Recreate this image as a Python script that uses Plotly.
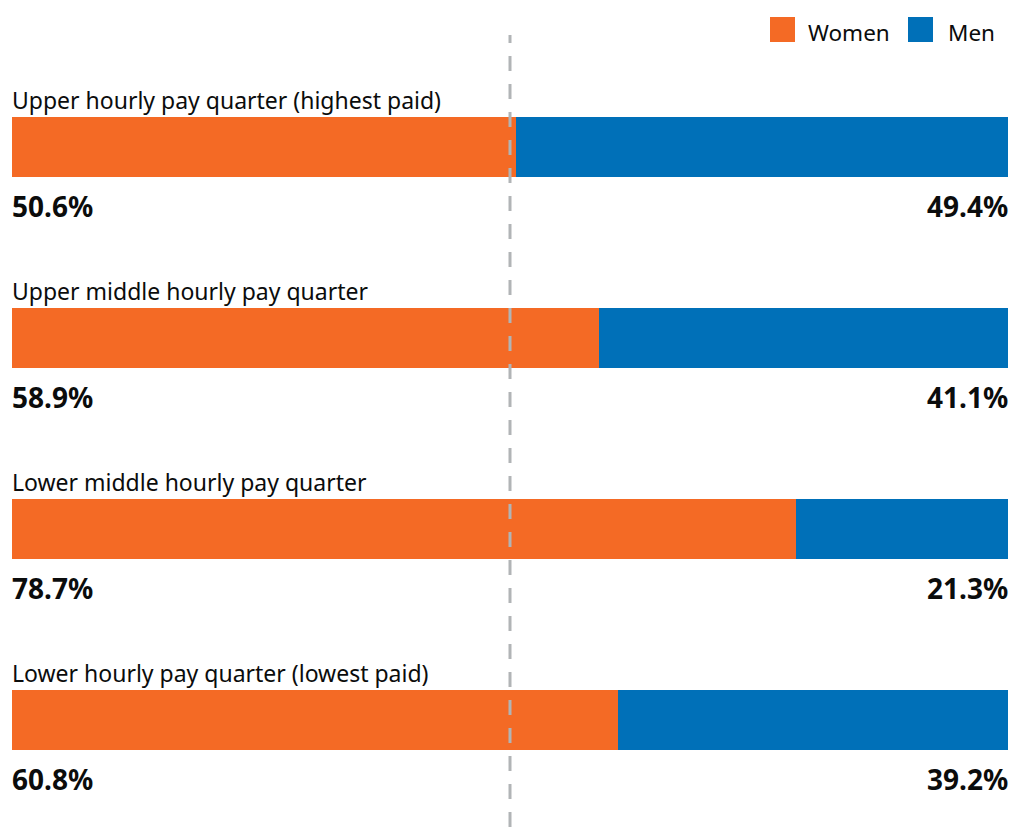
import plotly.graph_objects as go

categories = [
    "Upper hourly pay quarter (highest paid)",
    "Upper middle hourly pay quarter",
    "Lower middle hourly pay quarter",
    "Lower hourly pay quarter (lowest paid)",
]
women = [50.6, 58.9, 78.7, 60.8]
men = [49.4, 41.1, 21.3, 39.2]

ORANGE = "#f46a25"
BLUE = "#0070b8"
TEXT = "#0b0c0c"
FONT = "Noto Sans"

H = 827


def py(p):
    return 1 - p / H


def px(p):
    return (p - 12) / 996


ypos = list(range(len(categories)))

fig = go.Figure()
fig.add_trace(go.Bar(y=ypos, x=women, orientation="h", marker=dict(color=ORANGE, line_width=0),
                     width=0.314, name="Women", showlegend=False, hoverinfo="skip"))
fig.add_trace(go.Bar(y=ypos, x=men, orientation="h", marker=dict(color=BLUE, line_width=0),
                     width=0.314, name="Men", showlegend=False, hoverinfo="skip"))

annotations = []
for i, (c, w, m) in enumerate(zip(categories, women, men)):
    annotations.append(dict(x=0, y=i, xref="x", yref="y", text=c, showarrow=False,
                            xanchor="left", yanchor="middle", yshift=47, xshift=-2,
                            font=dict(family=FONT, size=23, color=TEXT)))
    annotations.append(dict(x=0, y=i, xref="x", yref="y", text=f"<b>{w:.1f}%</b>", showarrow=False,
                            xanchor="left", yanchor="middle", yshift=-59, xshift=-2,
                            font=dict(family=FONT, size=28, color=TEXT)))
    annotations.append(dict(x=100, y=i, xref="x", yref="y", text=f"<b>{m:.1f}%</b>", showarrow=False,
                            xanchor="right", yanchor="middle", yshift=-59, xshift=2,
                            font=dict(family=FONT, size=28, color=TEXT)))

# legend
annotations.append(dict(x=px(806), y=py(32), xref="paper", yref="paper", text="Women",
                        showarrow=False, xanchor="left", yanchor="middle",
                        font=dict(family=FONT, size=22.5, color=TEXT)))
annotations.append(dict(x=px(946), y=py(32), xref="paper", yref="paper", text="Men",
                        showarrow=False, xanchor="left", yanchor="middle",
                        font=dict(family=FONT, size=22.5, color=TEXT)))

shapes = [
    dict(type="rect", xref="paper", yref="paper", x0=px(770), x1=px(795),
         y0=py(42), y1=py(17), fillcolor=ORANGE, line_width=0),
    dict(type="rect", xref="paper", yref="paper", x0=px(908), x1=px(933),
         y0=py(42), y1=py(17), fillcolor=BLUE, line_width=0),
    dict(type="line", xref="x", yref="paper", x0=50, x1=50, y0=0, y1=py(35),
         line=dict(color="#b1b4b6", width=3, dash="15px,13px"), layer="above"),
]

fig.update_layout(
    width=1009, height=H,
    margin=dict(l=12, r=1, t=0, b=0),
    paper_bgcolor="white", plot_bgcolor="white",
    barmode="stack",
    xaxis=dict(range=[0, 100], visible=False, fixedrange=True),
    yaxis=dict(range=[3.560, -0.770], visible=False, fixedrange=True),
    annotations=annotations,
    shapes=shapes,
    showlegend=False,
    hovermode=False,
)
fig.write_html(
    "out.html",
    config={"displayModeBar": False, "staticPlot": True},
    post_script="document.body.style.margin='0';document.body.style.overflow='hidden';",
)
